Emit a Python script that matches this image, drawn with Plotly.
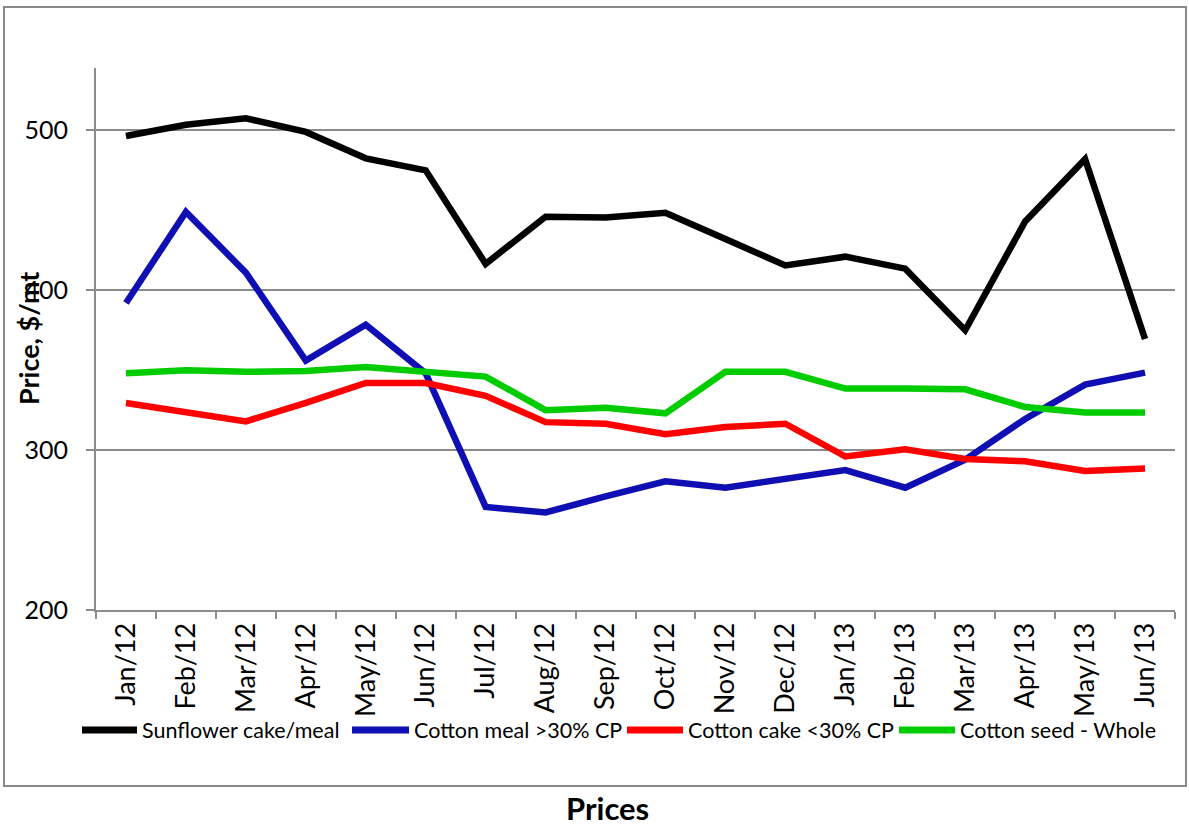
import plotly.graph_objects as go

# Monthly feed prices, $/mt
months = ["Jan/12", "Feb/12", "Mar/12", "Apr/12", "May/12", "Jun/12",
          "Jul/12", "Aug/12", "Sep/12", "Oct/12", "Nov/12", "Dec/12",
          "Jan/13", "Feb/13", "Mar/13", "Apr/13", "May/13", "Jun/13"]

sunflower_cake = [496.5, 503.5, 507.5, 499, 482.5, 475, 416.5, 446, 445.5,
                  448.5, 432, 415.5, 421, 413.5, 375, 443, 482, 369.5]
cotton_meal = [392, 449, 411, 356, 378.5, 348, 264.5, 261, 271,
               280.5, 276.5, 281.5, 287.5, 276.5, 294, 319.5, 341, 348.5]
cotton_cake = [329.5, 324, 318, 329.5, 342, 342, 334, 317.5, 316.5,
               310, 314.5, 316.5, 296, 300.5, 294.5, 293, 287, 288.5]
cotton_seed = [348, 350, 349, 349.5, 352, 348.5, 346, 325, 326.5,
               323, 349, 349, 338.5, 338.5, 338, 327, 323.5, 323.5]

series_names = ["Sunflower cake/meal", "Cotton meal >30% CP",
                "Cotton cake <30% CP", "Cotton seed - Whole"]
series_values = [sunflower_cake, cotton_meal, cotton_cake, cotton_seed]
series_colors = ["#000000", "#0F0FB4", "#FF0000", "#00CC00"]

FONT = "Lato, Calibri, sans-serif"
GRID = "#8C8C8C"

# Plot-area geometry in pixels, used to place the legend row and frame
W, H = 1189, 826
L, R, T, B = 96, 14, 68, 216
PW, PH = W - L - R, H - T - B


def px_x(x):
    return (x - L) / PW


def px_y(y):
    return (H - B - y) / PH


fig = go.Figure()
for name, values, color in zip(series_names, series_values, series_colors):
    fig.add_trace(go.Scatter(
        x=months, y=values, name=name, mode="lines",
        line=dict(color=color, width=6.5), showlegend=False,
    ))

fig.update_layout(
    width=W, height=H,
    paper_bgcolor="white", plot_bgcolor="white",
    margin=dict(l=L, r=R, t=T, b=B),
    font=dict(family=FONT, color="#000000", size=22),
    showlegend=False,
)

fig.update_xaxes(
    type="category", range=[-0.5, len(months) - 0.5],
    tickangle=-90, tickfont=dict(size=27, family=FONT),
    showline=True, linecolor=GRID, linewidth=2,
    ticks="outside", tickson="boundaries", ticklen=7, tickcolor=GRID, tickwidth=2,
    showgrid=False, zeroline=False,
)
fig.update_yaxes(
    range=[200, 539], tickvals=[200, 300, 400, 500],
    tickfont=dict(size=25, family=FONT), ticklabelstandoff=13,
    showline=True, linecolor=GRID, linewidth=2,
    ticks="outside", ticklen=8, tickcolor=GRID, tickwidth=2,
    showgrid=True, gridcolor=GRID, gridwidth=2, zeroline=False,
)

# Legend row beneath the month labels: long key line followed by the name
legend_keys = [(82, 137), (352, 409), (627, 683), (899, 955)]
legend_y = 730
for (x0, x1), name, color in zip(legend_keys, series_names, series_colors):
    fig.add_shape(
        type="line", xref="paper", yref="paper",
        x0=px_x(x0), x1=px_x(x1), y0=px_y(legend_y), y1=px_y(legend_y),
        line=dict(color=color, width=7),
    )
    fig.add_annotation(
        text=name, showarrow=False, xref="paper", yref="paper",
        x=px_x(x1 + 3), y=px_y(legend_y), xanchor="left", yanchor="middle",
        font=dict(size=21.5, family=FONT),
    )

# Y-axis title sits over the tick labels, as in the source layout
fig.add_annotation(
    text="<b>Price, $/mt</b>", textangle=-90, showarrow=False,
    xref="paper", yref="paper", x=px_x(28), y=0.5,
    xanchor="center", yanchor="middle",
    font=dict(size=27, family=FONT),
)

# Caption below the chart frame
fig.add_annotation(
    text="<b>Prices</b>", showarrow=False,
    xref="paper", yref="paper", x=px_x(607), y=px_y(808),
    xanchor="center", yanchor="middle",
    font=dict(size=31, family=FONT),
)

# Chart frame
fig.add_shape(
    type="rect", xref="paper", yref="paper",
    x0=px_x(4), x1=px_x(1186), y0=px_y(786), y1=px_y(7),
    line=dict(color="#898989", width=2), fillcolor="rgba(0,0,0,0)", layer="below",
)

fig.write_html("out.html")
